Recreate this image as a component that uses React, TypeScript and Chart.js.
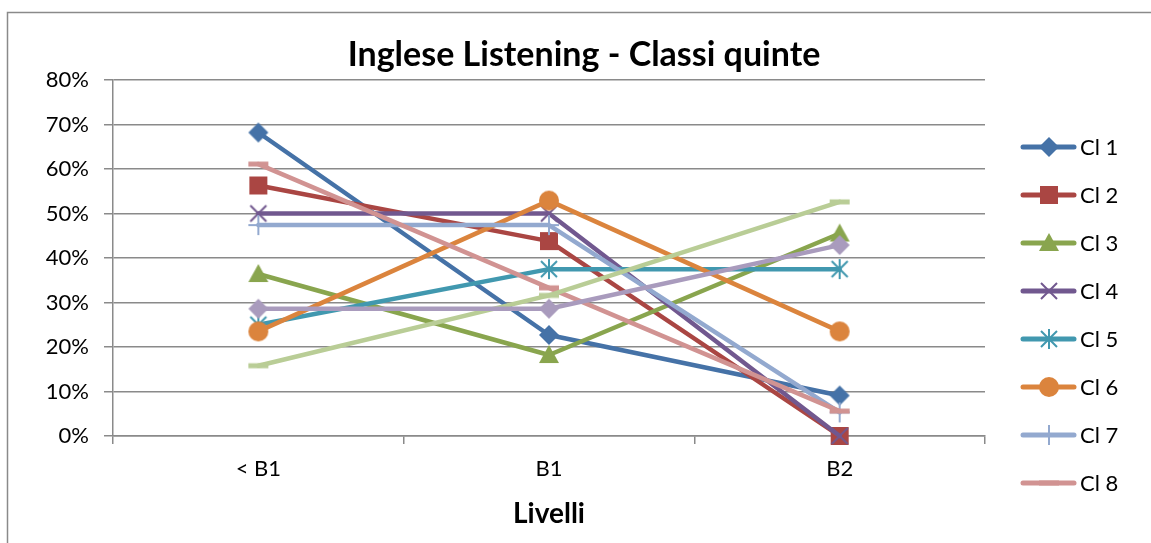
import React, { useEffect, useRef } from "react";
import { Chart, registerables } from "chart.js";

Chart.register(...registerables);

const categories = ["< B1", "B1", "B2"];
const seriesLabels = ["Cl 1", "Cl 2", "Cl 3", "Cl 4", "Cl 5", "Cl 6", "Cl 7", "Cl 8", "Cl 9", "Cl 10"];
const cl1 = [68.2, 22.7, 9.1];
const cl2 = [56.3, 43.8, 0];
const cl3 = [36.4, 18.2, 45.5];
const cl4 = [50, 50, 0];
const cl5 = [25, 37.5, 37.5];
const cl6 = [23.5, 52.9, 23.5];
const cl7 = [47.4, 47.4, 5.3];
const cl8 = [61.1, 33.3, 5.6];
const cl9 = [15.8, 31.6, 52.6];
const cl10 = [28.6, 28.6, 42.9];
const seriesValues = [cl1, cl2, cl3, cl4, cl5, cl6, cl7, cl8, cl9, cl10];
const yTicks = [0, 10, 20, 30, 40, 50, 60, 70, 80];
const titleText = "Inglese Listening - Classi quinte";
const axisTitle = "Livelli";
const legendCount = 8;

const colors = ["#4572A7", "#AA4643", "#89A54E", "#71588F", "#4198AF", "#DB843D", "#93A9CF", "#D19392", "#B9CD96", "#A99BBD"];
const markers = ["diamond", "square", "triangle", "x", "star", "circle", "plus", "dash", "dash", "diamond"];

const FONT = "Lato, 'Open Sans', sans-serif";
const GRID = "#8a8a8a";

function makeMarker(kind: string, color: string): HTMLCanvasElement {
  const s = 26;
  const c = document.createElement("canvas");
  c.width = s;
  c.height = s;
  const g = c.getContext("2d")!;
  const m = s / 2;
  g.fillStyle = color;
  g.strokeStyle = color;
  g.lineWidth = 2;
  g.beginPath();
  switch (kind) {
    case "diamond":
      g.moveTo(m, m - 10);
      g.lineTo(m + 10, m);
      g.lineTo(m, m + 10);
      g.lineTo(m - 10, m);
      g.closePath();
      g.fill();
      break;
    case "square":
      g.fillRect(m - 9, m - 9, 18, 18);
      break;
    case "triangle":
      g.moveTo(m, m - 10);
      g.lineTo(m + 10, m + 8);
      g.lineTo(m - 10, m + 8);
      g.closePath();
      g.fill();
      break;
    case "x":
      g.moveTo(m - 8, m - 8);
      g.lineTo(m + 8, m + 8);
      g.moveTo(m + 8, m - 8);
      g.lineTo(m - 8, m + 8);
      g.stroke();
      break;
    case "star":
      g.moveTo(m - 8, m - 8);
      g.lineTo(m + 8, m + 8);
      g.moveTo(m + 8, m - 8);
      g.lineTo(m - 8, m + 8);
      g.moveTo(m, m - 10);
      g.lineTo(m, m + 10);
      g.stroke();
      break;
    case "circle":
      g.arc(m, m, 10, 0, Math.PI * 2);
      g.fill();
      break;
    case "plus":
      g.moveTo(m, m - 10);
      g.lineTo(m, m + 10);
      g.moveTo(m - 10, m);
      g.lineTo(m + 10, m);
      g.stroke();
      break;
    case "dash":
      g.fillRect(m - 10, m - 2.5, 20, 5);
      break;
  }
  return c;
}

export default function App() {
  const ref = useRef<HTMLCanvasElement | null>(null);
  useEffect(() => {
    if (!ref.current) return;
    const images = markers.map((k, i) => makeMarker(k, colors[i]));
    const n = seriesValues.length;
    const datasets = seriesValues.map((vals, i) => ({
      label: seriesLabels[i],
      data: vals,
      borderColor: colors[i],
      backgroundColor: colors[i],
      borderWidth: 4.5,
      borderCapStyle: "round" as const,
      borderJoinStyle: "round" as const,
      pointStyle: images[i] as any,
      pointRadius: 6,
      pointHoverRadius: 6,
      tension: 0,
      clip: false as any,
      order: n - i,
    }));

    const framePlugin = {
      id: "frame",
      afterDraw(chart: any) {
        const ctx = chart.ctx;
        ctx.save();
        // outer chart frame (left and top edges visible)
        ctx.strokeStyle = GRID;
        ctx.lineWidth = 1.5;
        ctx.beginPath();
        ctx.moveTo(7.5, 543);
        ctx.lineTo(7.5, 12.5);
        ctx.lineTo(1151, 12.5);
        ctx.stroke();
        // chart title
        ctx.fillStyle = "#000";
        ctx.font = `bold 34px ${FONT}`;
        ctx.textAlign = "center";
        ctx.textBaseline = "alphabetic";
        ctx.fillText(titleText, 584, 66);
        // legend (first entries only, as in the original)
        for (let i = 0; i < legendCount; i++) {
          const y = 147 + i * 48;
          ctx.strokeStyle = colors[i];
          ctx.lineWidth = 5;
          ctx.lineCap = "round";
          ctx.beginPath();
          ctx.moveTo(1023, y);
          ctx.lineTo(1074, y);
          ctx.stroke();
          const img = images[i];
          ctx.drawImage(img, 1049 - img.width / 2, y - img.height / 2);
          ctx.fillStyle = "#000";
          ctx.font = `22px ${FONT}`;
          ctx.textAlign = "left";
          ctx.textBaseline = "middle";
          ctx.fillText(seriesLabels[i], 1080, y + 1);
        }
        ctx.restore();
      },
    };

    const chart = new Chart(ref.current, {
      type: "line",
      data: { labels: categories, datasets },
      options: {
        animation: false,
        responsive: false,
        devicePixelRatio: 1,
        layout: { padding: { top: 80, right: 166, left: 0, bottom: 0 } },
        plugins: {
          legend: { display: false },
          tooltip: { enabled: false },
          title: { display: false },
        },
        scales: {
          x: {
            type: "category",
            offset: true,
            afterFit: (s: any) => {
              s.height = 107;
            },
            grid: { offset: true, drawOnChartArea: false, drawTicks: true, tickLength: 8, color: GRID, lineWidth: 1.5 },
            border: { display: true, color: GRID, width: 1.5 },
            ticks: { color: "#000", font: { family: FONT, size: 22 }, padding: 12 },
            title: {
              display: true,
              text: axisTitle,
              color: "#000",
              font: { family: FONT, size: 28, weight: "bold" },
              padding: { top: 0, bottom: 12 },
            },
          },
          y: {
            min: 0,
            max: 80,
            afterFit: (s: any) => {
              s.width = 113;
            },
            afterBuildTicks: (s: any) => {
              s.ticks = yTicks.map((v) => ({ value: v }));
            },
            grid: { color: GRID, lineWidth: 1.5, tickLength: 9, drawTicks: true },
            border: { display: true, color: GRID, width: 1.5 },
            ticks: {
              color: "#000",
              font: { family: FONT, size: 22 },
              padding: 15,
              callback: (v: any) => `${v}%`,
            },
          },
        },
      },
      plugins: [framePlugin],
    });
    return () => chart.destroy();
  }, []);

  return (
    <div style={{ position: "fixed", left: 0, top: 0, width: 1151, height: 543, background: "#fff" }}>
      <canvas ref={ref} width={1151} height={543} style={{ display: "block" }} />
    </div>
  );
}
